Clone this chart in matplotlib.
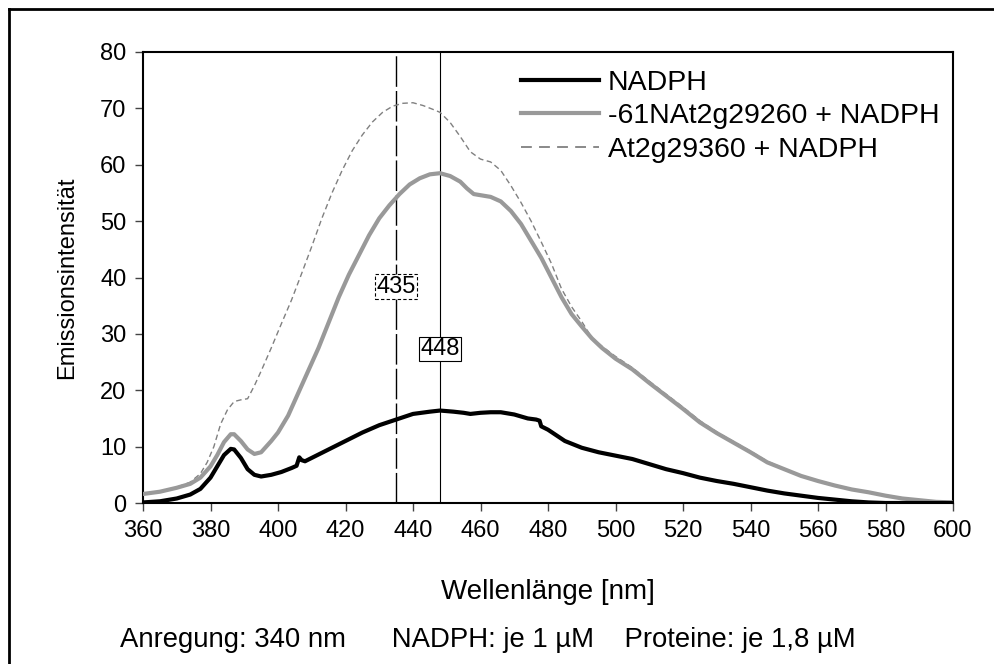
import matplotlib
matplotlib.use("Agg")
import matplotlib.pyplot as plt
from matplotlib.lines import Line2D

plt.rcParams['font.family'] = ['Liberation Sans', 'DejaVu Sans']

# ---- data ----
nadph_nm = [360, 365, 370, 374, 377, 380, 382, 384, 386, 387, 389, 391, 393, 395, 398, 401, 404,
            405.5, 406.3, 407, 408, 410, 415, 420, 425, 430, 435, 440, 445, 448, 452, 455, 457,
            460, 463, 466, 470, 474, 476.5, 477.5, 478, 480, 485, 490, 495, 500, 505, 510, 515,
            520, 525, 530, 535, 540, 545, 550, 555, 560, 565, 570, 575, 580, 600]
nadph_val = [0.1, 0.3, 0.8, 1.5, 2.5, 4.5, 6.5, 8.5, 9.6, 9.5, 8.0, 6.0, 5.0, 4.7, 5.0, 5.5, 6.2,
             6.6, 8.1, 7.6, 7.4, 8.0, 9.5, 11.0, 12.5, 13.8, 14.8, 15.8, 16.2, 16.4, 16.2, 16.0, 15.8,
             16.0, 16.1, 16.1, 15.7, 15.0, 14.8, 14.6, 13.6, 13.0, 11.0, 9.8, 9.0, 8.4, 7.8, 6.9, 6.0,
             5.3, 4.5, 3.9, 3.4, 2.8, 2.2, 1.7, 1.3, 0.9, 0.6, 0.3, 0.1, 0.0, 0.0]

prot61_nm = [360, 365, 370, 374, 377, 380, 382, 384, 386, 387, 389, 391, 393, 395, 398, 400, 403,
             406, 409, 412, 415, 418, 421, 424, 427, 430, 433, 436, 439, 442, 445, 448, 451, 454,
             456, 458, 460, 463, 466, 469, 472, 475, 478, 481, 484, 487, 490, 493, 496, 500, 505,
             510, 515, 520, 525, 530, 535, 540, 545, 550, 555, 560, 565, 570, 575, 580, 585, 590,
             595, 600]
prot61_val = [1.6, 2.0, 2.7, 3.4, 4.5, 6.5, 8.5, 10.8, 12.2, 12.2, 11.0, 9.5, 8.7, 9.0, 11.0, 12.5, 15.5,
              19.5, 23.5, 27.5, 32.0, 36.5, 40.5, 44.0, 47.5, 50.5, 52.8, 54.8, 56.5, 57.6, 58.3, 58.5, 58.0, 57.0,
              55.8, 54.8, 54.6, 54.3, 53.5, 51.8, 49.5, 46.5, 43.5, 40.0, 36.5, 33.5, 31.3, 29.2, 27.5, 25.6, 23.7,
              21.3, 19.0, 16.7, 14.3, 12.4, 10.7, 9.0, 7.2, 6.0, 4.8, 3.9, 3.1, 2.4, 1.9, 1.3, 0.8, 0.5,
              0.2, 0.1]

prot60_nm = [360, 365, 370, 374, 377, 379, 381, 383, 385, 387, 389, 391, 393, 395, 398, 401, 404,
             407, 410, 413, 416, 419, 422, 425, 428, 431, 434, 437, 440, 443, 446, 448, 451, 454,
             457, 460, 463, 466, 469, 472, 475, 478, 481, 484, 487, 490, 493, 496, 500, 505, 510,
             515, 520, 525, 530, 535, 540, 545, 550, 555, 560, 565, 570, 575, 580, 585, 590, 595, 600]
prot60_val = [1.6, 2.1, 2.8, 3.7, 5.2, 7.2, 10.0, 14.0, 16.5, 18.0, 18.3, 18.5, 20.8, 23.4, 27.5, 31.8, 36.0,
              40.7, 45.5, 50.5, 55.0, 59.0, 62.5, 65.3, 67.6, 69.3, 70.4, 70.9, 71.0, 70.5, 69.8, 69.3, 67.5, 65.0,
              62.3, 61.0, 60.5, 59.0, 56.3, 53.3, 50.0, 46.3, 42.5, 38.0, 34.8, 32.2, 29.3, 27.8, 26.0, 24.0, 21.6,
              19.3, 17.0, 14.6, 12.6, 10.9, 9.2, 7.4, 6.1, 4.9, 4.0, 3.2, 2.5, 1.9, 1.3, 0.8, 0.5, 0.2, 0.1]

labels = ["NADPH", "-61NAt2g29260 + NADPH", "At2g29360 + NADPH"]
marker_a, marker_b = 435, 448
marker_a_y, marker_b_y = 38.4, 27.3
xticks = list(range(360, 601, 20))
yticks = list(range(0, 81, 10))
footer = "Anregung: 340 nm      NADPH: je 1 µM    Proteine: je 1,8 µM"

# ---- figure ----
fig = plt.figure(figsize=(9.94, 6.64), dpi=100)
ax = fig.add_axes([143/994, 1-503/664, (953-143)/994, (503-52)/664])

# outer frame (extends beyond the image on the right and bottom)
fig.add_artist(Line2D([8.5/994, 1.0], [1-9/664, 1-9/664], transform=fig.transFigure,
                      color='black', lw=2))
fig.add_artist(Line2D([8.5/994, 8.5/994], [0.0, 1-9/664], transform=fig.transFigure,
                      color='black', lw=2))

fs_tick = 17
ax.axvline(marker_a, color='black', lw=1.0, dashes=(22, 3), zorder=1)
ax.axvline(marker_b, color='black', lw=0.8, zorder=1)

ax.plot(prot60_nm, prot60_val, color='#808080', lw=1.0, dashes=(4, 2.5), zorder=3,
        label=labels[2])
ax.plot(prot61_nm, prot61_val, color='#999999', lw=3.0, zorder=4, label=labels[1])
ax.plot(nadph_nm, nadph_val, color='black', lw=3.0, zorder=5, label=labels[0])

ax.text(marker_a, marker_a_y, str(marker_a), ha='center', va='center', fontsize=fs_tick, zorder=6,
        bbox=dict(boxstyle='square,pad=0.05', fc='white', ec='black', lw=0.8, ls=(0, (3, 2))))
ax.text(marker_b, marker_b_y, str(marker_b), ha='center', va='center', fontsize=fs_tick, zorder=6,
        bbox=dict(boxstyle='square,pad=0.05', fc='white', ec='black', lw=0.8))

ax.set_xlim(360, 600)
ax.set_ylim(0, 80)
ax.set_xticks(xticks)
ax.set_yticks(yticks)
ax.tick_params(direction='out', length=6, width=1, labelsize=fs_tick, color='#444444', pad=6)
for s in ax.spines.values():
    s.set_linewidth(1.5)

ax.set_xlabel("Wellenlänge [nm]", fontsize=20, labelpad=27)
ax.set_ylabel("Emissionsintensität", fontsize=fs_tick, labelpad=16)

handles, labs = ax.get_legend_handles_labels()
order = [2, 1, 0]
fs_leg = 20.5
leg = ax.legend([handles[i] for i in order], [labs[i] for i in order],
                loc='upper left', bbox_to_anchor=((503-143)/810, 1.0), frameon=False,
                fontsize=fs_leg, handlelength=2.75, handletextpad=0.3, labelspacing=0.26,
                borderaxespad=0.33, borderpad=0.3)
leg.legend_handles[2].set_dashes((6, 4))
leg.legend_handles[2].set_linewidth(1.3)

fig.text(120/994, 1-640/664, footer, ha='left', va='center', fontsize=19.8)

fig.savefig("out.png", dpi=100)
